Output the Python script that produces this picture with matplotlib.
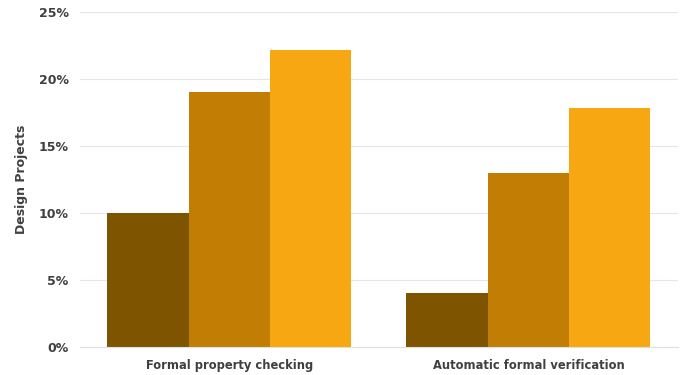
import numpy as np
import matplotlib.pyplot as plt
from matplotlib.ticker import FuncFormatter

categories = ["Formal property checking", "Automatic formal verification"]
series_a = [10.0, 4.0]
series_b = [19.0, 13.0]
series_c = [22.2, 17.8]
colors = ["#7F5400", "#C27E04", "#F7A711"]

fig = plt.figure(figsize=(6.82, 3.75), dpi=100)
ax = fig.add_axes([0.117, 0.075, 0.877, 0.893])

x = np.arange(len(categories))
w = 0.272
for i, (vals, c) in enumerate(zip([series_a, series_b, series_c], colors)):
    ax.bar(x + (i - 1) * w, vals, width=w, color=c, zorder=2)

ax.set_xlim(-0.5, 1.5)
ax.set_ylim(0, 25)
ax.set_yticks(range(0, 26, 5))
ax.yaxis.set_major_formatter(FuncFormatter(lambda v, p: f"{v:.0f}%"))
ax.set_xticks(x)
ax.set_xticklabels(categories)
ax.grid(axis="y", color="#E6E6E6", linewidth=0.8, zorder=0)
for s in ["top", "right", "left"]:
    ax.spines[s].set_visible(False)
ax.spines["bottom"].set_color("#E0E0E0")
ax.tick_params(length=0, labelsize=9, labelcolor="#404040", pad=8)
ax.tick_params(axis="x", labelsize=8.3, pad=9)
for lab in ax.get_xticklabels() + ax.get_yticklabels():
    lab.set_fontweight("bold")
ax.set_ylabel("Design Projects", fontsize=9, fontweight="bold", color="#404040", labelpad=8)

fig.savefig("out.png", dpi=100)
